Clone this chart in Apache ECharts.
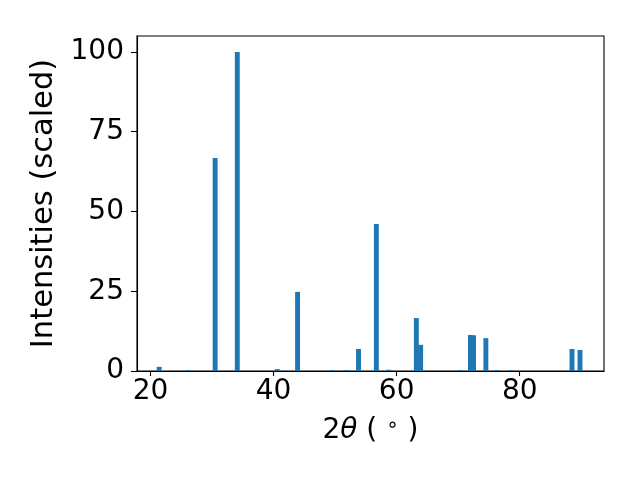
<!DOCTYPE html>
<html>
<head>
<meta charset="utf-8">
<script src="https://cdn.jsdelivr.net/npm/echarts@6/dist/echarts.min.js"></script>
<style>html,body{margin:0;padding:0;background:#fff;}#c{width:640px;height:480px;}</style>
</head>
<body>
<div id="c"></div>
<script>
var twoTheta = [21.4, 26.0, 30.5, 34.1, 40.6, 43.9, 49.4, 51.9, 53.8, 56.7, 58.7, 63.2, 63.9, 70.2, 72.0, 72.5, 74.5, 76.3, 78.6, 88.5, 89.8];
var intensities = [1.3, 0.3, 66.8, 100, 0.6, 24.8, 0.3, 0.3, 6.9, 46.1, 0.4, 16.6, 8.2, 0.3, 11.3, 11.2, 10.3, 0.3, 0.3, 6.9, 6.6];
var xTicks = [20, 40, 60, 80];
var yTicks = [0, 25, 50, 75, 100];
var barWidthDeg = 0.8;

var data = twoTheta.map(function (x, i) { return [x, intensities[i]]; });
var font = 'DejaVu Sans';
var chart = echarts.init(document.getElementById('c'), null, {renderer: 'canvas'});
chart.setOption({
  animation: false,
  backgroundColor: '#ffffff',
  grid: {left: 137, right: 36, top: 36, bottom: 109, show: true, borderColor: '#000', borderWidth: 1.1, backgroundColor: 'transparent'},
  xAxis: {
    type: 'value', min: 17.8, max: 93.7,
    name: '2{i|θ} ( {s|∘} )',
    nameLocation: 'middle', nameGap: 45,
    nameTextStyle: {fontFamily: font, fontSize: 28, color: '#000',
      rich: {i: {fontFamily: font, fontStyle: 'italic', fontSize: 28, color: '#000'},
             s: {fontFamily: font, fontSize: 20, color: '#000', verticalAlign: 'top', padding: [0,0,10,0]}}},
    axisLine: {show: true, onZero: false, lineStyle: {color: '#000', width: 1.1}},
    axisTick: {show: true, inside: false, length: 5, lineStyle: {color: '#000', width: 1.1}, customValues: xTicks},
    axisLabel: {show: true, fontFamily: font, fontSize: 28, color: '#000', margin: 7, customValues: xTicks},
    splitLine: {show: false}
  },
  yAxis: {
    type: 'value', min: 0, max: 105,
    name: 'Intensities (scaled)',
    nameLocation: 'middle', nameGap: 76, nameRotate: 90,
    nameTextStyle: {fontFamily: font, fontSize: 30.5, color: '#000'},
    axisLine: {show: true, onZero: false, lineStyle: {color: '#000', width: 1.1}},
    axisTick: {show: true, inside: false, length: 6, lineStyle: {color: '#000', width: 1.1}, customValues: yTicks},
    axisLabel: {show: true, fontFamily: font, fontSize: 28, color: '#000', margin: 13, customValues: yTicks},
    splitLine: {show: false}
  },
  series: [{
    type: 'custom',
    data: data,
    encode: {x: 0, y: 1},
    clip: true,
    renderItem: function (params, api) {
      var x = api.value(0), y = api.value(1);
      var p1 = api.coord([x - barWidthDeg / 2, y]);
      var p2 = api.coord([x + barWidthDeg / 2, 0]);
      return {
        type: 'rect',
        shape: {x: p1[0], y: p1[1], width: p2[0] - p1[0], height: p2[1] - p1[1]},
        style: {fill: '#1f77b4'}
      };
    }
  }]
});
</script>
</body>
</html>
